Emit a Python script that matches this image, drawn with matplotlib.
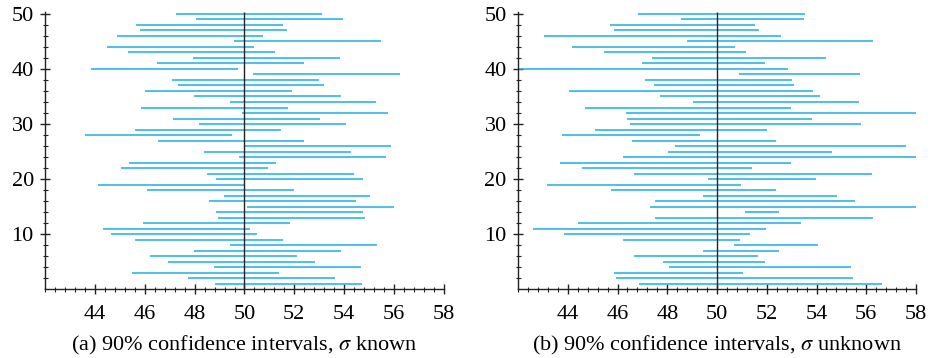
import matplotlib
matplotlib.use("Agg")
import matplotlib.pyplot as plt
import numpy as np

plt.rcParams['font.family'] = ['Liberation Serif', 'DejaVu Serif']
plt.rcParams['mathtext.fontset'] = 'stix'

# sample number 1..50 (bottom to top)
samples = np.arange(1, 51)

# (a) sigma known: lower / upper ends of the 90% intervals
known_lo = [48.80, 47.75, 45.49, 48.77, 46.91, 46.21, 47.99, 49.41, 45.61, 44.64,
            44.33, 45.93, 48.94, 48.85, 50.11, 48.57, 49.16, 46.09, 44.10, 48.84,
            48.49, 45.02, 45.38, 49.77, 48.37, 50.01, 46.52, 43.61, 45.59, 48.19,
            47.14, 49.89, 45.85, 49.40, 47.98, 46.01, 47.31, 47.10, 50.33, 43.83,
            46.49, 47.93, 45.34, 44.49, 49.57, 44.86, 45.81, 45.64, 48.06, 47.23]
known_hi = [54.71, 53.65, 51.39, 54.66, 52.82, 52.10, 53.89, 55.31, 51.53, 50.52,
            50.24, 51.83, 54.83, 54.74, 56.01, 54.47, 55.06, 51.99, 50.00, 54.74,
            54.40, 50.94, 51.28, 55.67, 54.27, 55.89, 52.41, 49.51, 51.48, 54.09,
            53.05, 55.78, 51.75, 55.30, 53.88, 51.90, 53.21, 53.00, 56.25, 49.73,
            52.39, 53.83, 51.24, 50.40, 55.47, 50.76, 51.71, 51.54, 53.95, 53.13]

# (b) sigma unknown
unknown_lo = [46.88, 45.95, 45.87, 48.08, 47.83, 46.68, 49.42, 50.68, 46.21, 43.86,
              42.61, 44.41, 47.51, 51.14, 47.31, 47.52, 49.44, 45.75, 43.15, 49.64,
              46.68, 44.57, 43.70, 46.22, 48.04, 48.31, 46.60, 43.78, 45.08, 46.52,
              46.40, 46.36, 44.68, 49.04, 47.72, 44.04, 47.45, 47.12, 50.90, 42.00,
              46.97, 47.37, 45.46, 44.17, 48.81, 43.06, 45.87, 45.69, 48.55, 46.84]
unknown_hi = [56.64, 55.48, 51.03, 55.37, 51.92, 51.65, 52.50, 54.07, 50.94, 51.31,
              51.97, 53.36, 56.28, 52.48, 58.00, 55.53, 54.81, 52.36, 50.95, 53.97,
              56.22, 51.41, 52.97, 58.00, 54.62, 57.60, 52.36, 49.33, 52.00, 55.80,
              53.83, 58.00, 52.96, 55.71, 54.15, 53.87, 53.11, 53.01, 55.73, 52.85,
              51.94, 54.39, 51.15, 50.74, 56.26, 52.59, 51.67, 51.51, 53.48, 53.52]

mu = 50
captions = [r'(a) 90% confidence intervals, $\sigma$ known',
            r'(b) 90% confidence intervals, $\sigma$ unknown']

fig = plt.figure(figsize=(9.4, 3.58), dpi=100)
axes = [fig.add_axes([0.0482, 0.192, 0.4238, 0.7754]),
        fig.add_axes([0.5511, 0.192, 0.4234, 0.7754])]

for ax, lo, hi, cap in zip(axes, [known_lo, unknown_lo], [known_hi, unknown_hi], captions):
    ax.hlines(samples, lo, hi, color='#1aafe6', lw=1.1)
    ax.vlines(mu, 0, 50.3, color='#222222', lw=1.0)
    ax.set_xlim(42, 58)
    ax.set_ylim(0, 50.4)
    ax.spines['top'].set_visible(False)
    ax.spines['right'].set_visible(False)
    for s in ['left', 'bottom']:
        ax.spines[s].set_linewidth(1.0)
        ax.spines[s].set_color('#222222')
    ax.set_xticks(np.arange(44, 59, 2))
    ax.set_xticks(np.arange(42, 58.01, 0.4), minor=True)
    ax.set_yticks([10, 20, 30, 40, 50])
    ax.set_yticks(np.arange(2, 51, 2), minor=True)
    ax.tick_params(which='major', direction='inout', length=6.5, width=1.0,
                   labelsize=16, color='#222222')
    ax.tick_params(which='minor', direction='inout', length=3.6, width=0.8,
                   color='#222222')
    ax.tick_params(axis='x', pad=8)
    ax.tick_params(axis='y', pad=5)
    ax.set_xlabel(cap, fontsize=16, labelpad=7)

fig.savefig('out.png', dpi=100)
